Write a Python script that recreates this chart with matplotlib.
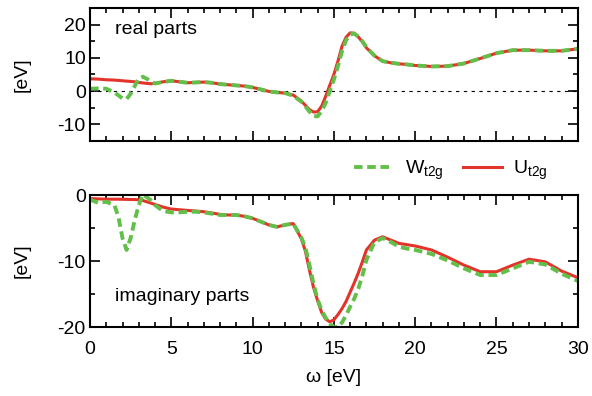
import numpy as np
import matplotlib
matplotlib.use('Agg')
import matplotlib.pyplot as plt
from matplotlib.ticker import MultipleLocator

plt.rcParams['font.family'] = ['Liberation Sans', 'DejaVu Sans']
plt.rcParams['mathtext.fontset'] = 'custom'
plt.rcParams['mathtext.rm'] = 'Liberation Sans'
plt.rcParams['mathtext.it'] = 'Liberation Sans'
plt.rcParams['axes.unicode_minus'] = False

# shared frequency grid [eV]
omega = [0, 0.5, 1.0, 1.5, 1.75, 2.0, 2.25, 2.5, 2.75, 3.0, 3.25, 3.5, 3.75, 4.0, 4.5,
         5, 5.5, 6, 6.5, 7, 7.5, 8, 8.5, 9, 9.5, 10, 10.5, 11, 11.5, 12, 12.5,
         13, 13.25, 13.5, 13.75, 14, 14.25, 14.5, 14.75, 15, 15.25, 15.5, 15.75,
         16, 16.25, 16.5, 16.75, 17, 17.5, 18, 18.5, 19, 19.5, 20,
         21, 22, 23, 24, 25, 26, 27, 28, 29, 30]

# real parts
re_U = [3.7, 3.6, 3.4, 3.3, 3.2, 3.1, 3.0, 2.9, 2.8, 2.6, 2.45, 2.3, 2.2, 2.3, 2.8,
        3.1, 2.8, 2.5, 2.6, 2.7, 2.5, 2.1, 1.9, 1.7, 1.5, 1.1, 0.5, -0.1, -0.4, -0.6, -1.2,
        -3.0, -4.3, -5.6, -6.3, -6.2, -4.5, -1.5, 1.8, 5.0, 9.0, 13.5, 16.2,
        17.5, 17.4, 16.3, 14.8, 13.0, 10.6, 9.0, 8.5, 8.2, 8.0, 7.7,
        7.4, 7.5, 8.3, 9.8, 11.4, 12.3, 12.3, 12.1, 12.1, 12.7]
re_W = [0.7, 0.8, 0.7, -0.4, -1.3, -2.2, -2.4, -0.8, 1.5, 3.8, 4.3, 3.7, 2.8, 2.3, 2.7,
        3.1, 2.8, 2.5, 2.6, 2.7, 2.5, 2.1, 1.9, 1.7, 1.5, 1.1, 0.5, -0.1, -0.4, -0.6, -1.4,
        -3.2, -4.6, -6.2, -7.5, -7.6, -6.0, -3.5, 0.0, 3.5, 7.5, 12.0, 15.3,
        17.0, 17.3, 16.4, 15.0, 13.2, 10.6, 9.0, 8.5, 8.2, 8.0, 7.7,
        7.4, 7.5, 8.3, 9.8, 11.4, 12.3, 12.3, 12.1, 12.1, 12.7]

# imaginary parts
im_U = [-0.5, -0.55, -0.6, -0.6, -0.6, -0.62, -0.63, -0.65, -0.65, -0.7, -0.8, -1.0, -1.2, -1.4, -1.8,
        -2.1, -2.2, -2.3, -2.4, -2.5, -2.7, -2.9, -3.0, -3.0, -3.2, -3.5, -4.0, -4.5, -4.8, -4.5, -4.3,
        -6.6, -8.5, -11.4, -14.0, -16.0, -17.8, -18.8, -19.2, -18.9, -18.1, -17.2, -16.1,
        -14.7, -13.3, -11.8, -10.1, -8.3, -6.8, -6.3, -6.8, -7.3, -7.5, -7.7,
        -8.3, -9.4, -10.6, -11.6, -11.6, -10.6, -9.7, -10.1, -11.5, -12.5]
im_W = [-0.65, -1.15, -1.0, -1.5, -3.3, -6.5, -8.3, -6.5, -3.8, -1.5, 0.1, -0.3, -0.8, -1.5, -2.4,
        -2.6, -2.6, -2.5, -2.5, -2.6, -2.8, -3.0, -3.0, -3.0, -3.2, -3.5, -4.0, -4.5, -4.8, -4.5, -4.3,
        -6.4, -8.0, -10.6, -13.5, -15.8, -17.5, -18.6, -19.5, -20.0, -20.0, -19.3, -18.2,
        -16.9, -15.7, -14.2, -12.2, -9.8, -7.1, -6.5, -7.1, -7.8, -8.1, -8.3,
        -8.9, -9.9, -11.1, -12.1, -12.1, -11.1, -10.1, -10.5, -11.9, -13.0]

RED = '#e3342b'
GREEN = '#62c04a'
FS = 14

fig = plt.figure(figsize=(5.92, 3.96), dpi=100)
ax1 = fig.add_axes([0.152, 0.644, 0.824, 0.336])
ax2 = fig.add_axes([0.152, 0.174, 0.824, 0.333])


def style_axis(ax):
    ax.set_xlim(0, 30)
    ax.xaxis.set_major_locator(MultipleLocator(5))
    ax.xaxis.set_minor_locator(MultipleLocator(1))
    ax.yaxis.set_major_locator(MultipleLocator(10))
    ax.yaxis.set_minor_locator(MultipleLocator(5))
    ax.tick_params(which='both', direction='in', top=True, right=True, width=1.2,
                   labelsize=FS)
    ax.tick_params(which='major', length=7)
    ax.tick_params(which='minor', length=3.6)
    ax.tick_params(axis='y', pad=3)
    ax.tick_params(axis='x', pad=10)
    for s in ax.spines.values():
        s.set_linewidth(1.5)
    ax.set_ylabel('[eV]', fontsize=FS)
    ax.yaxis.set_label_coords(-0.121, 0.5)


# top: real parts
ax1.axhline(0, color='black', lw=0.8, ls=(0, (3, 4)))
ax1.plot(omega, re_U, color=RED, lw=2.2, label=r'U$_{\rm t2g}$')
ax1.plot(omega, re_W, color=GREEN, lw=2.8, ls='--', dashes=(2.2, 1.2), label=r'W$_{\rm t2g}$')
ax1.set_ylim(-15, 25)
style_axis(ax1)
ax1.set_xticklabels([])
ax1.text(0.051, 0.84, 'real parts', transform=ax1.transAxes, fontsize=FS, va='center')

# bottom: imaginary parts
ax2.plot(omega, im_U, color=RED, lw=2.2)
ax2.plot(omega, im_W, color=GREEN, lw=2.8, ls='--', dashes=(2.2, 1.2))
ax2.set_ylim(-20, 0)
style_axis(ax2)
ax2.set_xlabel('ω [eV]', fontsize=FS, labelpad=8)
ax2.text(0.051, 0.23, 'imaginary parts', transform=ax2.transAxes, fontsize=FS, va='center')

h, l = ax1.get_legend_handles_labels()
fig.legend(h[::-1], l[::-1], ncol=2, frameon=False, fontsize=FS,
           loc='center right', bbox_to_anchor=(0.955, 0.57),
           handlelength=2.0, columnspacing=1.0, handletextpad=0.6)

fig.savefig('out.png', dpi=100)
